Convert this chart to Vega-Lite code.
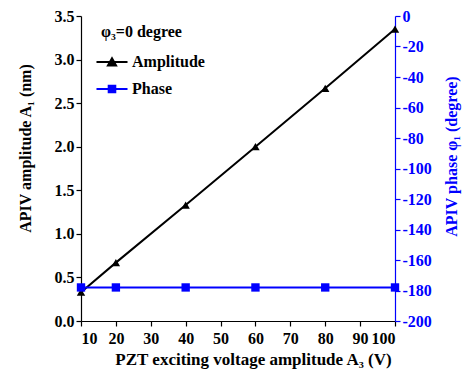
{
  "$schema": "https://vega.github.io/schema/vega-lite/v6.json",
  "width": 314,
  "height": 305,
  "autosize": {"type": "none"},
  "padding": {"left": 81, "top": 16, "right": 76, "bottom": 56},
  "background": "white",
  "config": {
    "view": {"stroke": null},
    "font": "Liberation Serif",
    "axis": {
      "labelFont": "Liberation Serif", "labelFontSize": 16, "labelFontWeight": "bold", "labelColor": "black",
      "titleFont": "Liberation Serif", "titleFontSize": 16, "titleFontWeight": "bold", "titleColor": "black",
      "domainColor": "black", "tickColor": "black", "domainWidth": 1.2, "tickWidth": 1.2, "tickSize": 5, "grid": false
    }
  },
  "data": {
    "values": [
      {"V": 10, "amp": 0.33, "phase": -178},
      {"V": 20, "amp": 0.67, "phase": -178},
      {"V": 40, "amp": 1.33, "phase": -178},
      {"V": 60, "amp": 2.0, "phase": -178},
      {"V": 80, "amp": 2.67, "phase": -178},
      {"V": 100, "amp": 3.35, "phase": -178}
    ]
  },
  "encoding": {
    "x": {
      "field": "V", "type": "quantitative",
      "scale": {"domain": [10, 100], "nice": false, "zero": false},
      "axis": {"values": [10, 20, 30, 40, 50, 60, 70, 80, 90, 100], "title": "PZT exciting voltage  amplitude A₃ (V)", "titleFontSize": 17, "titleX": 172, "titlePadding": 5, "labelPadding": 4}
    }
  },
  "layer": [
    {
      "encoding": {
        "y": {
          "field": "amp", "type": "quantitative",
          "scale": {"domain": [0, 3.5], "nice": false},
          "axis": {"values": [0, 0.5, 1, 1.5, 2, 2.5, 3, 3.5], "format": ".1f", "title": "APIV amplitude A₁ (nm)", "titlePadding": 21, "titleY": 132}
        },
        "color": {
          "datum": "Amplitude", "type": "nominal",
          "scale": {"domain": ["Amplitude", "Phase"], "range": ["black", "blue"]},
          "legend": {
            "orient": "none", "legendX": 20, "legendY": 8,
            "title": "φ₃=0 degree",
            "titleFont": "Liberation Serif", "titleFontSize": 16, "titleFontWeight": "bold", "titleColor": "black", "titlePadding": 11,
            "labelFont": "Liberation Serif", "labelFontSize": 16, "labelFontWeight": "bold", "labelColor": "black",
            "symbolSize": 376, "symbolStrokeWidth": 2, "rowPadding": 8, "labelOffset": 9,
            "encode": {
              "symbols": {
                "update": {
                  "shape": {"signal": "datum.value === 'Amplitude' ? 'M-1.6,0H1.6M-0.42,0.36L0,-0.38L0.42,0.36Z' : 'M-1.6,0H1.6M-0.34,-0.34H0.34V0.34H-0.34Z'"},
                  "fill": {"signal": "datum.value === 'Amplitude' ? 'black' : 'blue'"},
                  "stroke": {"signal": "datum.value === 'Amplitude' ? 'black' : 'blue'"},
                  "strokeWidth": {"value": 2},
                  "opacity": {"value": 1}
                }
              }
            }
          }
        }
      },
      "layer": [
        {"mark": {"type": "line", "strokeWidth": 2}},
        {"mark": {"type": "point", "shape": "triangle-up", "filled": true, "size": 70, "opacity": 1, "color": "black"}}
      ]
    },
    {
      "encoding": {
        "y": {
          "field": "phase", "type": "quantitative",
          "scale": {"domain": [-200, 0], "nice": false, "zero": false},
          "axis": {
            "orient": "right", "values": [-200, -180, -160, -140, -120, -100, -80, -60, -40, -20, 0],
            "labelExpr": "'' + datum.value", "title": "APIV phase φ₁ (degree)", "titleAngle": 270, "titleBaseline": "top", "titlePadding": 12, "titleY": 140,
            "labelColor": "blue", "titleColor": "blue", "domainColor": "blue", "tickColor": "blue"
          }
        },
        "color": {"datum": "Phase", "type": "nominal"}
      },
      "layer": [
        {"mark": {"type": "line", "strokeWidth": 2}},
        {"mark": {"type": "point", "shape": "square", "filled": true, "size": 70, "opacity": 1, "color": "blue"}}
      ]
    }
  ],
  "resolve": {"scale": {"y": "independent"}}
}
